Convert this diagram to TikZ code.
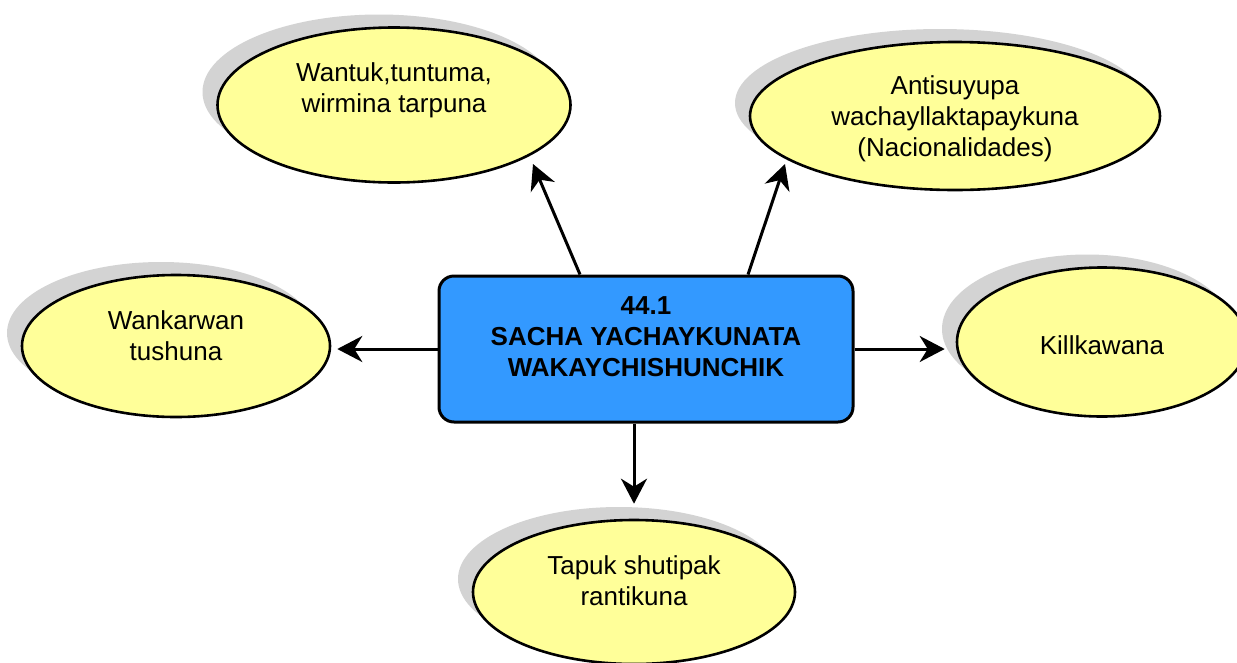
\documentclass[tikz,border=0pt]{standalone}
\usepackage{fontspec}
\setmainfont{Liberation Sans}
\usetikzlibrary{shapes.geometric,shadows,arrows.meta}
\definecolor{bubbleyellow}{HTML}{FFFF99}
\definecolor{hubblue}{HTML}{3399FF}
\definecolor{shadowgray}{HTML}{D3D3D3}
\tikzset{
bubble/.style={ellipse,draw,line width=2.6pt,fill=bubbleyellow,inner sep=0pt,drop shadow={shadow xshift=-15pt,shadow yshift=13pt,fill=shadowgray,opacity=1}},
hub/.style={rectangle,rounded corners=15pt,draw,line width=3pt,fill=hubblue,minimum width=414pt,minimum height=146pt},
txt/.style={align=center,font=\fontsize{26}{31}\selectfont},
arr/.style={-{Stealth[length=25pt,width=26pt,inset=8pt]},line width=3pt}
}
\begin{document}
\begin{tikzpicture}[x=1pt,y=-1pt]
\useasboundingbox (0,0) rectangle (1237,662);
\node[bubble,minimum width=353pt,minimum height=155pt] (wantuk) at (394,105) {};
\node[bubble,minimum width=410pt,minimum height=148pt] (antisuyu) at (955,116) {};
\node[bubble,minimum width=308pt,minimum height=142pt] (wankar) at (176,346) {};
\node[bubble,minimum width=290pt,minimum height=149pt] (killka) at (1102,342) {};
\node[bubble,minimum width=322pt,minimum height=144pt] (tapuk) at (634,592) {};
\node[hub] (box) at (646,349) {};
\node[txt] (wantuktxt) at (394,90) {Wantuk,tuntuma,\\wirmina tarpuna};
\node[txt] (antisuyutxt) at (955,119) {Antisuyupa\\wachayllaktapaykuna\\(Nacionalidades)};
\node[txt] (wankartxt) at (176,336) {Wankarwan\\tushuna};
\node[txt] (killkatxt) at (1102,345) {Killkawana};
\node[txt] (tapuktxt) at (634,581) {Tapuk shutipak\\rantikuna};
\node[txt,font=\fontsize{26}{31}\selectfont\bfseries] (boxtxt) at (646,337) {44.1\\SACHA YACHAYKUNATA\\WAKAYCHISHUNCHIK};
\draw[arr] ([xshift=-66pt]box.north) -- ([xshift=139pt,yshift=-59pt]wantuk.center);
\draw[arr] ([xshift=102pt]box.north) -- ([xshift=-170pt,yshift=-48pt]antisuyu.center);
\draw[arr,shorten >=6pt] (box.west) -- (box.west -| wankar.east);
\draw[arr,shorten >=11pt] (box.east) -- (box.east -| killka.west);
\draw[arr,shorten >=15pt] (box.south -| tapuk.north) -- (tapuk.north);
\end{tikzpicture}
\end{document}
